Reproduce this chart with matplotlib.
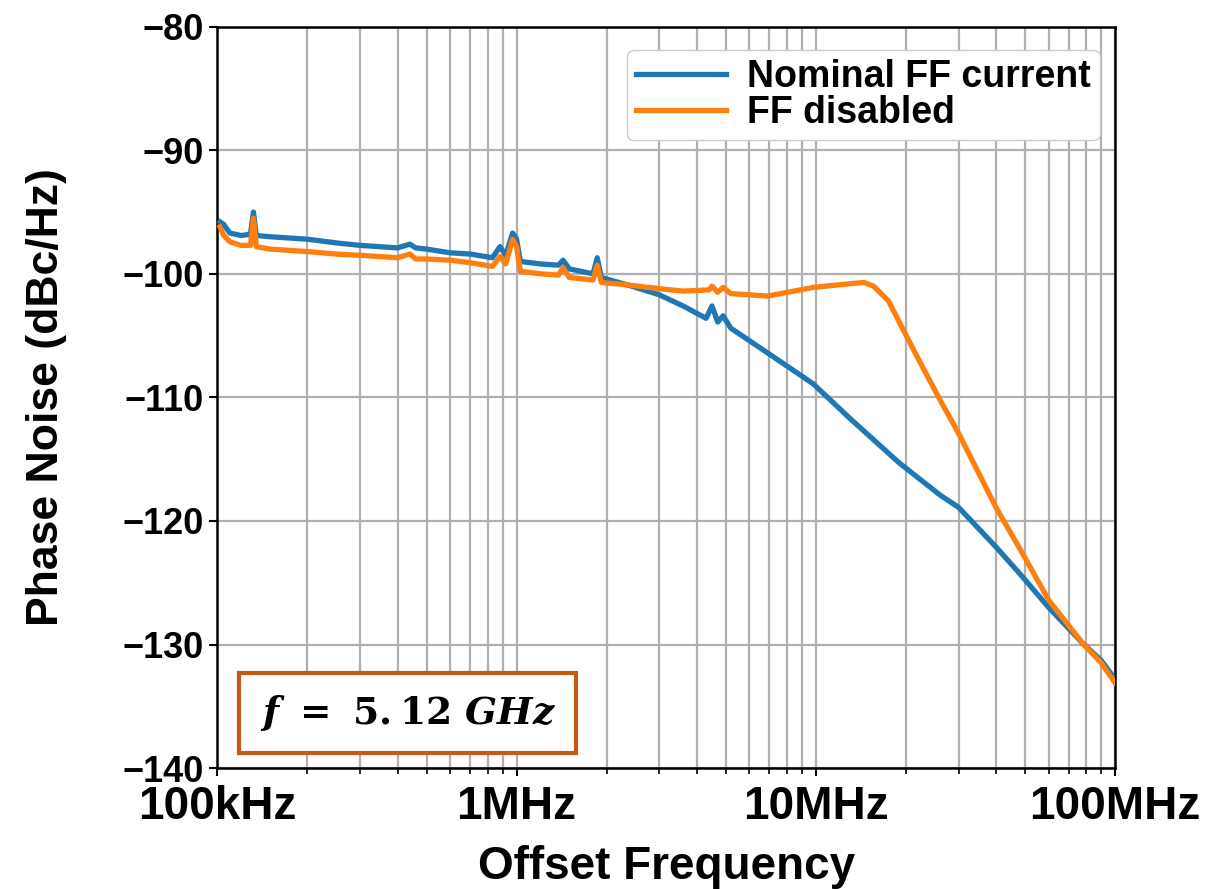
import matplotlib.pyplot as plt
from matplotlib.ticker import LogLocator, NullFormatter

plt.rcParams['font.family'] = ['Liberation Sans', 'DejaVu Sans']
plt.rcParams['font.weight'] = 'bold'
plt.rcParams['mathtext.fontset'] = 'dejavuserif'

# Nominal FF current (blue)
f_nom = [1.02e5, 1.05e5, 1.1e5, 1.2e5, 1.29e5, 1.32e5, 1.35e5, 1.5e5, 2.0e5, 2.5e5, 3.0e5,
         4.0e5, 4.4e5, 4.6e5, 5.0e5, 6.0e5, 7.0e5, 8.3e5, 8.8e5, 9.2e5, 9.7e5, 1.0e6,
         1.03e6, 1.2e6, 1.38e6, 1.43e6, 1.5e6, 1.8e6, 1.86e6, 1.92e6, 2.35e6, 3.0e6,
         3.6e6, 4.3e6, 4.5e6, 4.7e6, 4.9e6, 5.2e6, 6.9e6, 9.8e6, 1.3e7, 1.9e7, 2.6e7,
         3.0e7, 4.0e7, 4.9e7, 6.0e7, 7.8e7, 9.0e7, 1.0e8]
pn_nom = [-95.8, -96.0, -96.7, -96.9, -96.8, -95.0, -96.9, -97.0, -97.2, -97.5, -97.7,
          -97.9, -97.6, -97.9, -98.0, -98.3, -98.4, -98.7, -97.8, -98.5, -96.7, -97.2,
          -99.0, -99.2, -99.3, -98.9, -99.6, -100.0, -98.7, -100.3, -100.9, -101.7,
          -102.6, -103.6, -102.6, -103.9, -103.4, -104.4, -106.4, -108.9, -111.7, -115.3, -117.9,
          -118.9, -122.1, -124.5, -127.0, -129.9, -131.3, -132.8]

# FF disabled (orange)
f_dis = [1.02e5, 1.05e5, 1.1e5, 1.2e5, 1.29e5, 1.32e5, 1.35e5, 1.5e5, 2.0e5, 2.5e5, 3.0e5,
         4.0e5, 4.4e5, 4.6e5, 5.0e5, 6.0e5, 7.0e5, 8.3e5, 8.8e5, 9.2e5, 9.7e5, 1.0e6,
         1.03e6, 1.2e6, 1.38e6, 1.43e6, 1.5e6, 1.8e6, 1.86e6, 1.92e6, 2.35e6, 3.0e6,
         3.6e6, 4.4e6, 4.5e6, 4.7e6, 4.9e6, 5.2e6, 6.9e6, 9.8e6, 1.3e7, 1.45e7, 1.56e7,
         1.75e7, 1.91e7, 2.18e7, 2.6e7, 3.0e7, 4.0e7, 4.9e7, 6.0e7, 7.8e7, 9.0e7, 1.0e8]
pn_dis = [-96.2, -96.9, -97.4, -97.7, -97.7, -95.5, -97.8, -98.0, -98.2, -98.4, -98.5,
          -98.7, -98.4, -98.8, -98.8, -98.9, -99.1, -99.4, -98.6, -99.2, -97.2, -97.8,
          -99.8, -100.0, -100.1, -99.5, -100.3, -100.5, -99.3, -100.7, -100.9, -101.2,
          -101.4, -101.3, -101.0, -101.5, -101.1, -101.6, -101.8, -101.1, -100.8, -100.7, -101.0,
          -102.2, -104.0, -106.7, -110.2, -112.9, -118.9, -122.6, -126.4, -129.9, -131.5, -133.1]

fig, ax = plt.subplots(figsize=(12.28, 8.89), dpi=100)
fig.subplots_adjust(left=0.177, right=0.908, top=0.970, bottom=0.136)

ax.semilogx(f_nom, pn_nom, color='#1f77b4', lw=3.8, label='Nominal FF current', zorder=3)
ax.semilogx(f_dis, pn_dis, color='#ff7f0e', lw=3.8, label='FF disabled', zorder=3)

ax.set_xlim(1e5, 1e8)
ax.set_ylim(-140, -80)
ax.set_xticks([1e5, 1e6, 1e7, 1e8])
ax.set_xticklabels(['100kHz', '1MHz', '10MHz', '100MHz'])
ax.xaxis.set_minor_locator(LogLocator(base=10, subs=range(2, 10)))
ax.xaxis.set_minor_formatter(NullFormatter())
ax.set_yticks(range(-140, -79, 10))
ax.set_yticklabels(['\u2212' + str(abs(v)) for v in range(-140, -79, 10)])
ax.grid(True, which='both', color='#b0b0b0', lw=1.6)
ax.tick_params(axis='y', labelsize=26, width=1.5, length=6)
ax.tick_params(axis='x', labelsize=33, width=1.5, length=6, pad=6)
ax.tick_params(which='minor', length=4, width=1.2)
for s in ax.spines.values():
    s.set_linewidth(1.8)

ax.set_xlabel('Offset Frequency', fontsize=33, fontweight='bold', labelpad=12)
ax.set_ylabel('Phase Noise (dBc/Hz)', fontsize=32, fontweight='bold', labelpad=40)

leg = ax.legend(loc='upper right', fontsize=27, handlelength=2.4, framealpha=1,
                borderpad=0.25, labelspacing=0.0, handletextpad=0.55,
                bbox_to_anchor=(0.983, 0.969), borderaxespad=0)
leg.get_frame().set_edgecolor('#cccccc')

ax.text(0.212, 0.074, r'$\mathbfit{f}\ \mathbf{=\ 5.}\mathbf{12}\ \mathbfit{GHz}$',
        transform=ax.transAxes, fontsize=27, ha='center', va='center',
        bbox=dict(boxstyle='square,pad=0.55', fc='white', ec='#c55a11', lw=3), zorder=5)

plt.savefig('out.png', dpi=100)
